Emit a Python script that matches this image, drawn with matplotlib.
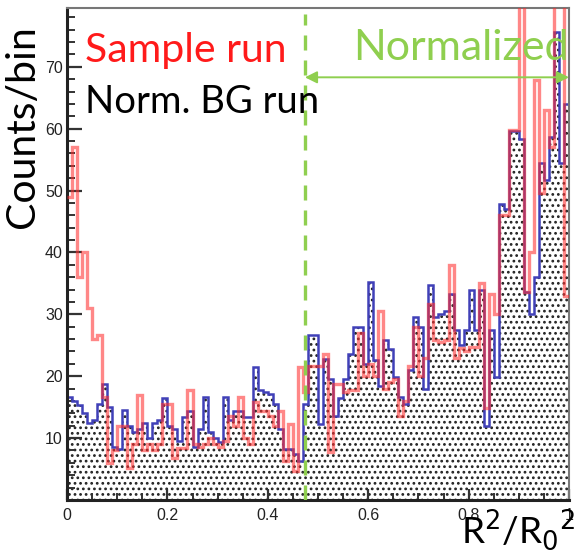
import numpy as np
import matplotlib
matplotlib.use("Agg")
import matplotlib.pyplot as plt
from matplotlib.ticker import MultipleLocator, FuncFormatter

# ---------------- data (100 bins, 0..1) ----------------
x_min, x_max, n_bins = 0.0, 1.0, 100
bg_run = [16.6, 16.0, 15.3, 14.0, 12.5, 13.0, 15.5, 18.7, 15.0, 8.5,
          8.2, 14.5, 12.0, 11.0, 11.5, 12.5, 10.0, 12.5, 13.0, 16.5,
          12.0, 11.5, 9.5, 13.4, 14.4, 8.5, 11.5, 16.6, 11.0, 10.0,
          9.3, 16.6, 13.0, 14.4, 14.4, 13.4, 13.4, 21.5, 17.7, 17.5,
          17.2, 15.5, 11.5, 8.2, 8.2, 7.5, 6.3, 15.5, 26.6, 26.6,
          12.3, 22.8, 19.5, 13.6, 16.5, 19.5, 23.6, 28.0, 28.0, 22.0,
          35.2, 22.6, 18.5, 25.8, 24.4, 19.8, 16.6, 15.5, 21.0, 29.5,
          27.9, 17.9, 34.7, 29.5, 30.0, 30.5, 33.3, 27.5, 25.0, 27.5,
          33.9, 27.4, 33.9, 12.0, 27.4, 19.8, 47.9, 47.0, 59.6, 59.6,
          58.3, 33.6, 30.1, 36.0, 54.4, 51.7, 58.7, 75.7, 54.5, 64.0]
sample_run = [49, 57, 36, 40, 31, 26, 26.6, 16.6, 6, 8,
              12, 12, 5.2, 9, 17, 8, 9, 8, 9, 15.5,
              15.5, 6.8, 8.4, 8.4, 17.7, 9.0, 8.5, 9, 10, 9,
              8.5, 9.5, 13.6, 12, 16.6, 10.0, 9, 15.8, 14.4, 14.4,
              13.5, 12, 14.4, 6.3, 12.3, 4.7, 21.5, 17.5, 21.7, 21.7,
              21.7, 23.6, 7.7, 18.7, 18.7, 17.5, 17.7, 17.7, 27, 20,
              22, 20, 30.6, 18, 19, 19.5, 13.6, 16, 21.7, 27.9,
              20, 23, 31.7, 25.8, 25.5, 25.8, 37.9, 22.9, 24.5, 24,
              24.7, 24.7, 35, 14.8, 33.3, 30, 46, 46, 59.8, 59.8,
              85, 33.6, 40, 67.9, 49.6, 63, 57, 85, 85, 33]
y_top = 79.5
norm_start = 0.474
x_ticks = [0, 0.2, 0.4, 0.6, 0.8, 1.0]
y_ticks = [10, 20, 30, 40, 50, 60, 70]

edges = np.linspace(x_min, x_max, n_bins + 1)

W, H = 576, 552
fig = plt.figure(figsize=(W / 100, H / 100), dpi=100)
ax = fig.add_axes([67 / W, 1 - 500 / H, 502 / W, 492 / H])
ax.set_xlim(x_min, x_max)
ax.set_ylim(0, y_top)

plt.rcParams['hatch.linewidth'] = 1.2
green = '#8fcf4f'

# dotted fill of the background histogram
ax.stairs(bg_run, edges, fill=True, facecolor='white', edgecolor='#222222',
          linewidth=0, hatch='...', zorder=1)
ax.stairs(bg_run, edges, color='#4040b8', linewidth=1.8, zorder=2, baseline=None)
ax.stairs(sample_run, edges, color='#ff3030', alpha=0.58, linewidth=2.4,
          zorder=3, baseline=None)

# normalisation region
ax.plot([norm_start, norm_start], [0, 78.5], color=green, lw=2.4,
        dashes=(4.5, 3), zorder=4, solid_capstyle='butt')
ax.annotate('', xy=(x_max, 68.3), xytext=(norm_start, 68.3),
            arrowprops=dict(arrowstyle='<|-|>', color=green, lw=1.4,
                            mutation_scale=18, shrinkA=0, shrinkB=0), zorder=5)

# axes styling (ROOT-like)
ax.set_xticks(x_ticks)
ax.set_yticks(y_ticks)
ax.xaxis.set_minor_locator(MultipleLocator(0.05))
ax.yaxis.set_minor_locator(MultipleLocator(2))
ax.xaxis.set_major_formatter(FuncFormatter(lambda v, p: '%g' % v))
ax.tick_params(which='both', direction='in', top=False, right=False,
               labelsize=11.5, colors='#333333', labelcolor='#222222')
ax.tick_params(which='major', length=11, width=1.6)
ax.tick_params(which='minor', length=6, width=1.4)
ax.tick_params(axis='x', which='major', length=8)
ax.tick_params(axis='x', which='minor', length=5)
for lab in ax.get_xticklabels() + ax.get_yticklabels():
    lab.set_family(['Liberation Sans', 'DejaVu Sans'])
ax.tick_params(axis='y', pad=3)
ax.tick_params(axis='x', pad=6)
for s in ['left', 'bottom']:
    ax.spines[s].set_linewidth(2.2)
    ax.spines[s].set_color('#222222')
for s in ['top', 'right']:
    ax.spines[s].set_linewidth(1.5)
    ax.spines[s].set_color('#777777')

big = ['Lato', 'DejaVu Sans']
def ftext(x, y, s, **kw):
    fig.text(x / W, 1 - y / H, s, family=big, **kw)

ftext(23, 127, 'Counts/bin', rotation=90, ha='center', va='center', fontsize=29.5)
ftext(85, 62, 'Sample run', color='#ff1a1a', fontsize=29.5, va='baseline')
ftext(85, 113, 'Norm. BG run', color='black', fontsize=27.5, va='baseline')
ftext(569, 60, 'Normalized', color=green, fontsize=31, ha='right', va='baseline')
ftext(575, 543, r'R$^{2}$/R$_{0}$$^{2}$', color='black', fontsize=26.5, ha='right',
      va='baseline')

fig.savefig('out.png', dpi=100)
